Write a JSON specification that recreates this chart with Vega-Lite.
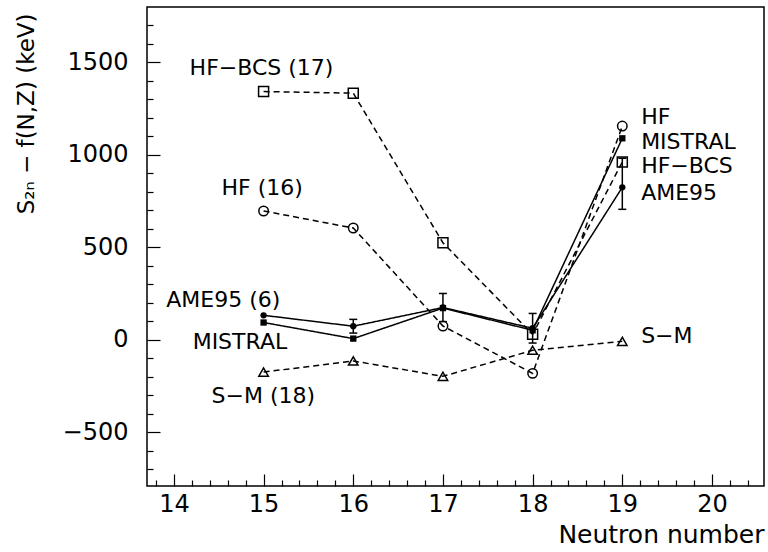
{
  "$schema": "https://vega.github.io/schema/vega-lite/v6.json",
  "width": 617,
  "height": 479,
  "autosize": {"type": "none"},
  "padding": {"left": 147, "top": 7, "right": 4, "bottom": 66},
  "background": "white",
  "config": {
    "view": {"stroke": "black", "strokeWidth": 1.5},
    "font": "DejaVu Sans"
  },
  "datasets": {
    "pts": [
      {"N": 15, "value": 1343, "model": "HF-BCS"},
      {"N": 16, "value": 1334, "model": "HF-BCS"},
      {"N": 17, "value": 525, "model": "HF-BCS"},
      {"N": 18, "value": 30, "model": "HF-BCS"},
      {"N": 19, "value": 962, "model": "HF-BCS"},
      {"N": 15, "value": 697, "model": "HF"},
      {"N": 16, "value": 605, "model": "HF"},
      {"N": 17, "value": 75, "model": "HF"},
      {"N": 18, "value": -181, "model": "HF"},
      {"N": 19, "value": 1156, "model": "HF"},
      {"N": 15, "value": -174, "model": "S-M"},
      {"N": 16, "value": -114, "model": "S-M"},
      {"N": 17, "value": -197, "model": "S-M"},
      {"N": 18, "value": -56, "model": "S-M"},
      {"N": 19, "value": -8, "model": "S-M"},
      {"N": 15, "value": 133, "model": "AME95"},
      {"N": 16, "value": 74, "lo": 37, "hi": 111, "model": "AME95"},
      {"N": 17, "value": 175, "lo": 99, "hi": 251, "model": "AME95"},
      {"N": 18, "value": 63, "lo": -17, "hi": 143, "model": "AME95"},
      {"N": 19, "value": 825, "lo": 706, "hi": 982, "model": "AME95"},
      {"N": 15, "value": 94, "model": "MISTRAL"},
      {"N": 16, "value": 7, "model": "MISTRAL"},
      {"N": 17, "value": 172, "model": "MISTRAL"},
      {"N": 18, "value": 52, "model": "MISTRAL"},
      {"N": 19, "value": 1090, "model": "MISTRAL"}
    ],
    "labels": [
      {"N": 14.175, "value": 1471, "text": "HF−BCS (17)"},
      {"N": 14.53, "value": 821, "text": "HF (16)"},
      {"N": 13.915, "value": 215, "text": "AME95 (6)"},
      {"N": 14.209, "value": -11, "text": "MISTRAL"},
      {"N": 14.42, "value": -306, "text": "S−M (18)"},
      {"N": 19.21, "value": 1207, "text": "HF"},
      {"N": 19.21, "value": 1072, "text": "MISTRAL"},
      {"N": 19.21, "value": 940, "text": "HF−BCS"},
      {"N": 19.21, "value": 792, "text": "AME95"},
      {"N": 19.21, "value": 20, "text": "S−M"}
    ]
  },
  "resolve": {"axis": {"x": "independent", "y": "independent"}},
  "layer": [
    {
      "data": {"name": "pts"},
      "mark": {"type": "line", "color": "black", "strokeWidth": 1.5},
      "encoding": {
        "x": {
          "field": "N", "type": "quantitative",
          "scale": {"domain": [13.7, 20.58], "nice": false, "zero": false},
          "axis": {
            "orient": "bottom",
            "title": "Neutron number",
            "values": [14, 15, 16, 17, 18, 19, 20],
            "format": "d",
            "grid": false,
            "domain": false,
            "tickColor": "black",
            "tickWidth": 1.2,
            "tickSize": -12,
            "labelFontSize": 24,
            "labelColor": "black",
            "labelPadding": 18,
            "labelFlush": false,
            "titleFontSize": 25,
            "titleFontWeight": "normal",
            "titleColor": "black",
            "titleAnchor": "end",
            "titlePadding": 6
          }
        },
        "y": {
          "field": "value", "type": "quantitative",
          "scale": {"domain": [-790, 1800], "nice": false, "zero": false},
          "axis": {
            "orient": "left",
            "title": "S₂ₙ − f(N,Z) (keV)",
            "values": [-500, 0, 500, 1000, 1500],
            "format": "d",
            "grid": false,
            "domain": false,
            "tickColor": "black",
            "tickWidth": 1.2,
            "tickSize": -13,
            "labelFontSize": 24,
            "labelColor": "black",
            "labelPadding": 32,
            "labelFlush": false,
            "titleFontSize": 23,
            "titleFontWeight": "normal",
            "titleColor": "black",
            "titleAnchor": "end",
            "titlePadding": 24,
            "titleY": 6
          }
        },
        "detail": {"field": "model"},
        "strokeDash": {
          "field": "model", "type": "nominal",
          "scale": {"domain": ["AME95", "MISTRAL", "HF", "HF-BCS", "S-M"], "range": [[1, 0], [1, 0], [6, 4], [6, 4], [6, 4]]},
          "legend": null
        }
      }
    },
    {
      "data": {"name": "pts"},
      "transform": [{"filter": "datum.model === 'HF-BCS'"}],
      "mark": {"type": "point", "shape": "square", "filled": false, "color": "black", "strokeWidth": 1.5, "size": 100, "opacity": 1},
      "encoding": {
        "x": {"field": "N", "type": "quantitative",
          "axis": {"orient": "bottom", "title": null, "labels": false, "domain": false, "grid": false, "tickColor": "black", "tickWidth": 1.2, "tickSize": -6,
            "values": [13.8, 14.2, 14.4, 14.6, 14.8, 15.2, 15.4, 15.6, 15.8, 16.2, 16.4, 16.6, 16.8, 17.2, 17.4, 17.6, 17.8, 18.2, 18.4, 18.6, 18.8, 19.2, 19.4, 19.6, 19.8, 20.2, 20.4]}},
        "y": {"field": "value", "type": "quantitative",
          "axis": {"orient": "left", "title": null, "labels": false, "domain": false, "grid": false, "tickColor": "black", "tickWidth": 1.2, "tickSize": -6,
            "values": [-700, -600, -400, -300, -200, -100, 100, 200, 300, 400, 600, 700, 800, 900, 1100, 1200, 1300, 1400, 1600, 1700]}}
      }
    },
    {
      "data": {"name": "pts"},
      "transform": [{"filter": "datum.model === 'HF'"}],
      "mark": {"type": "point", "shape": "circle", "filled": false, "color": "black", "strokeWidth": 1.5, "size": 90, "opacity": 1},
      "encoding": {"x": {"field": "N", "type": "quantitative", "axis": null}, "y": {"field": "value", "type": "quantitative", "axis": null}}
    },
    {
      "data": {"name": "pts"},
      "transform": [{"filter": "datum.model === 'S-M'"}],
      "mark": {"type": "point", "shape": "triangle-up", "filled": false, "color": "black", "strokeWidth": 1.5, "size": 90, "opacity": 1},
      "encoding": {"x": {"field": "N", "type": "quantitative", "axis": null}, "y": {"field": "value", "type": "quantitative", "axis": null}}
    },
    {
      "data": {"name": "pts"},
      "transform": [{"filter": "datum.model === 'AME95'"}],
      "mark": {"type": "point", "shape": "circle", "filled": true, "color": "black", "size": 40, "opacity": 1},
      "encoding": {"x": {"field": "N", "type": "quantitative", "axis": null}, "y": {"field": "value", "type": "quantitative", "axis": null}}
    },
    {
      "data": {"name": "pts"},
      "transform": [{"filter": "datum.model === 'MISTRAL'"}],
      "mark": {"type": "point", "shape": "square", "filled": true, "color": "black", "size": 40, "opacity": 1},
      "encoding": {"x": {"field": "N", "type": "quantitative", "axis": null}, "y": {"field": "value", "type": "quantitative", "axis": null}}
    },
    {
      "data": {"name": "pts"},
      "transform": [{"filter": "datum.lo != null"}],
      "mark": {"type": "rule", "color": "black", "strokeWidth": 1.5},
      "encoding": {"x": {"field": "N", "type": "quantitative", "axis": null}, "y": {"field": "lo", "type": "quantitative", "axis": null}, "y2": {"field": "hi"}}
    },
    {
      "data": {"name": "pts"},
      "transform": [{"filter": "datum.lo != null"}],
      "mark": {"type": "tick", "orient": "horizontal", "color": "black", "thickness": 1.5, "size": 8, "opacity": 1},
      "encoding": {"x": {"field": "N", "type": "quantitative", "axis": null}, "y": {"field": "hi", "type": "quantitative", "axis": null}}
    },
    {
      "data": {"name": "pts"},
      "transform": [{"filter": "datum.lo != null"}],
      "mark": {"type": "tick", "orient": "horizontal", "color": "black", "thickness": 1.5, "size": 8, "opacity": 1},
      "encoding": {"x": {"field": "N", "type": "quantitative", "axis": null}, "y": {"field": "lo", "type": "quantitative", "axis": null}}
    },
    {
      "data": {"name": "labels"},
      "mark": {"type": "text", "align": "left", "baseline": "middle", "fontSize": 22, "color": "black"},
      "encoding": {"x": {"field": "N", "type": "quantitative", "axis": null}, "y": {"field": "value", "type": "quantitative", "axis": null}, "text": {"field": "text"}}
    }
  ]
}
